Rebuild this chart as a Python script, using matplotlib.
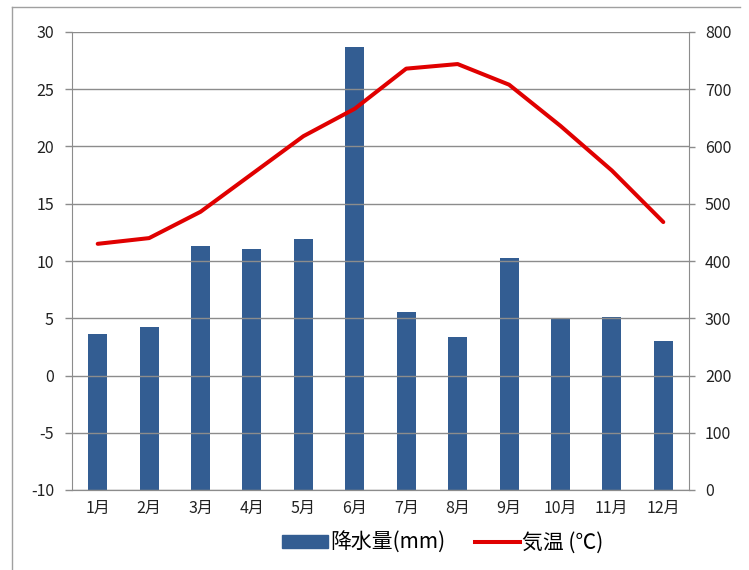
import matplotlib
matplotlib.use('Agg')
import matplotlib.pyplot as plt
from matplotlib.lines import Line2D
import numpy as np

plt.rcParams['font.family'] = ['Noto Sans CJK JP', 'DejaVu Sans']
plt.rcParams['axes.unicode_minus'] = False

# data
months = ['1月', '2月', '3月', '4月', '5月', '6月', '7月', '8月', '9月', '10月', '11月', '12月']
rain = [272, 285, 427, 421, 438, 774, 311, 267, 406, 299, 303, 260]
temp = [11.5, 12.0, 14.3, 17.6, 20.9, 23.3, 26.8, 27.2, 25.4, 21.8, 17.9, 13.4]

W, H = 749, 570
fig = plt.figure(figsize=(W / 100, H / 100), dpi=100)
ax = fig.add_axes([72 / W, 1 - 490 / H, (689 - 72) / W, (490 - 32) / H])
ax2 = ax.twinx()

x = np.arange(len(months))
grey = '#8c8c8c'
blue = '#335D92'
red = '#E00000'

# bars on the right axis (precipitation)
ax2.bar(x, rain, width=0.37, color=blue, zorder=2)
ax2.set_ylim(0, 800)
ax2.set_yticks(range(0, 801, 100))

# temperature line on the left axis
ax.set_ylim(-10, 30)
ax.set_yticks(range(-10, 31, 5))
ax.set_xlim(-0.5, 11.5)
ax.grid(axis='y', color=grey, linewidth=1)
ax.set_axisbelow(True)

ax.set_zorder(ax2.get_zorder() + 1)
ax.patch.set_visible(False)
ax.plot(x, temp, color=red, linewidth=2.9, zorder=3, solid_capstyle='round')

ax.set_xticks(x)
ax.set_xticklabels(months)
ax.tick_params(axis='x', length=0, pad=7, labelsize=11.5, colors='#222222')
ax.tick_params(axis='y', length=5, width=1, color=grey, labelsize=11.5,
               labelcolor='#222222', pad=8)
ax2.tick_params(axis='y', length=4.5, width=1, color=grey, labelsize=11.5,
                labelcolor='#222222', pad=7)
for a in (ax, ax2):
    a.spines['top'].set_visible(False)
    for s in ('left', 'right', 'bottom'):
        a.spines[s].set_color(grey)
ax2.spines['left'].set_visible(False)
ax.spines['right'].set_visible(False)

# legend below the plot
handles = [plt.Rectangle((0, 0), 1, 1, color=blue),
           Line2D([0], [0], color=red, linewidth=2.9)]
fig.legend(handles, ['降水量(mm)', '気温 (℃)'], loc='center',
           bbox_to_anchor=(443 / W, 1 - 543 / H), ncol=2, frameon=False,
           fontsize=15, handlelength=2.2, handleheight=0.55, handletextpad=0.1,
           columnspacing=1.4, borderpad=0.2)

# outer chart frame
fig.add_artist(Line2D([12 / W, 12 / W], [0, 1 - 7 / H], transform=fig.transFigure,
                      color='#a0a0a0', linewidth=1))
fig.add_artist(Line2D([12 / W, 740 / W], [1 - 7 / H, 1 - 7 / H], transform=fig.transFigure,
                      color='#a0a0a0', linewidth=1))

fig.savefig('out.png', dpi=100)
